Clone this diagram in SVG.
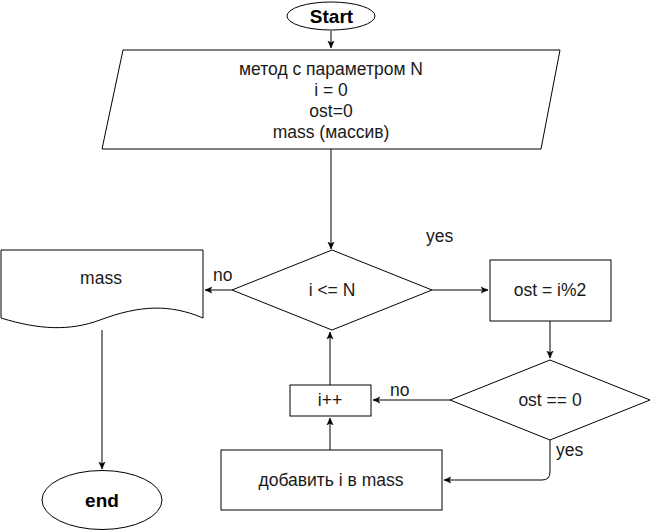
<svg xmlns="http://www.w3.org/2000/svg" width="651" height="531" viewBox="0 0 651 531">
<style>
.s{fill:#fff;stroke:#000;stroke-width:1}
.t{font-family:"Liberation Sans",Arial,sans-serif;font-size:17.5px;fill:#1a1a1a;text-anchor:middle;dominant-baseline:central}
.b{font-weight:bold;font-size:19px;fill:#000}
.c{fill:none;stroke:#000;stroke-width:1}
.l{font-family:"Liberation Sans",Arial,sans-serif;font-size:17.5px;fill:#1a1a1a}
</style>
<defs>
<marker id="a" viewBox="0 0 10 10" refX="9" refY="5" markerWidth="8" markerHeight="8" markerUnits="userSpaceOnUse" orient="auto">
<path d="M0,1 L9,5 L0,9 L2.5,5 Z" fill="#000" stroke="#000" stroke-width="0.5"/>
</marker>
</defs>
<rect width="651" height="531" fill="#fff"/>
<g id="connectors">
<path class="c" d="M331,31 V48" marker-end="url(#a)"/>
<path class="c" d="M331,149 V249" marker-end="url(#a)"/>
<path class="c" d="M232,290 H205" marker-end="url(#a)"/>
<path class="c" d="M102,330 V469" marker-end="url(#a)"/>
<path class="c" d="M432,290 H488" marker-end="url(#a)"/>
<path class="c" d="M550,321 V358" marker-end="url(#a)"/>
<path class="c" d="M450,400 H373" marker-end="url(#a)"/>
<path class="c" d="M330,385 V332" marker-end="url(#a)"/>
<path class="c" d="M550,440 V472 Q550,480 542,480 H444" marker-end="url(#a)"/>
<path class="c" d="M330,450 V418" marker-end="url(#a)"/>
<text class="l" x="213" y="281">no</text>
<text class="l" x="426" y="242">yes</text>
<text class="l" x="390" y="396">no</text>
<text class="l" x="556" y="456">yes</text>
</g>
<g id="start">
<ellipse class="s" cx="331" cy="16" rx="44" ry="14"/>
<text class="t b" x="331.5" y="16">Start</text>
</g>
<g id="input">
<polygon class="s" points="123,50 560,50 541,149 102,149"/>
<text class="t" x="331" y="69">метод с параметром N</text>
<text class="t" x="331" y="90">i = 0</text>
<text class="t" x="331" y="111">ost=0</text>
<text class="t" x="331" y="132">mass (массив)</text>
</g>
<g id="cond1">
<polygon class="s" points="332,250 432,290 332,330 232,290"/>
<text class="t" x="332" y="290">i &lt;= N</text>
</g>
<g id="mass">
<path class="s" d="M1,250 H203 V318 C170,304 140,305 100,320 C70,331 40,330 1,318 Z"/>
<text class="t" x="101" y="278">mass</text>
</g>
<g id="end">
<ellipse class="s" cx="102" cy="500" rx="60" ry="29.5"/>
<text class="t b" x="102" y="500">end</text>
</g>
<g id="ost">
<rect class="s" x="490" y="260" width="121" height="61"/>
<text class="t" x="550" y="290">ost = i%2</text>
</g>
<g id="cond2">
<polygon class="s" points="550,360 650,400 550,440 450,400"/>
<text class="t" x="550" y="400">ost == 0</text>
</g>
<g id="inc">
<rect class="s" x="290" y="385" width="81" height="31"/>
<text class="t" x="330" y="400">i++</text>
</g>
<g id="add">
<rect class="s" x="221" y="450" width="221" height="60"/>
<text class="t" x="331" y="480">добавить i в mass</text>
</g>
</svg>
